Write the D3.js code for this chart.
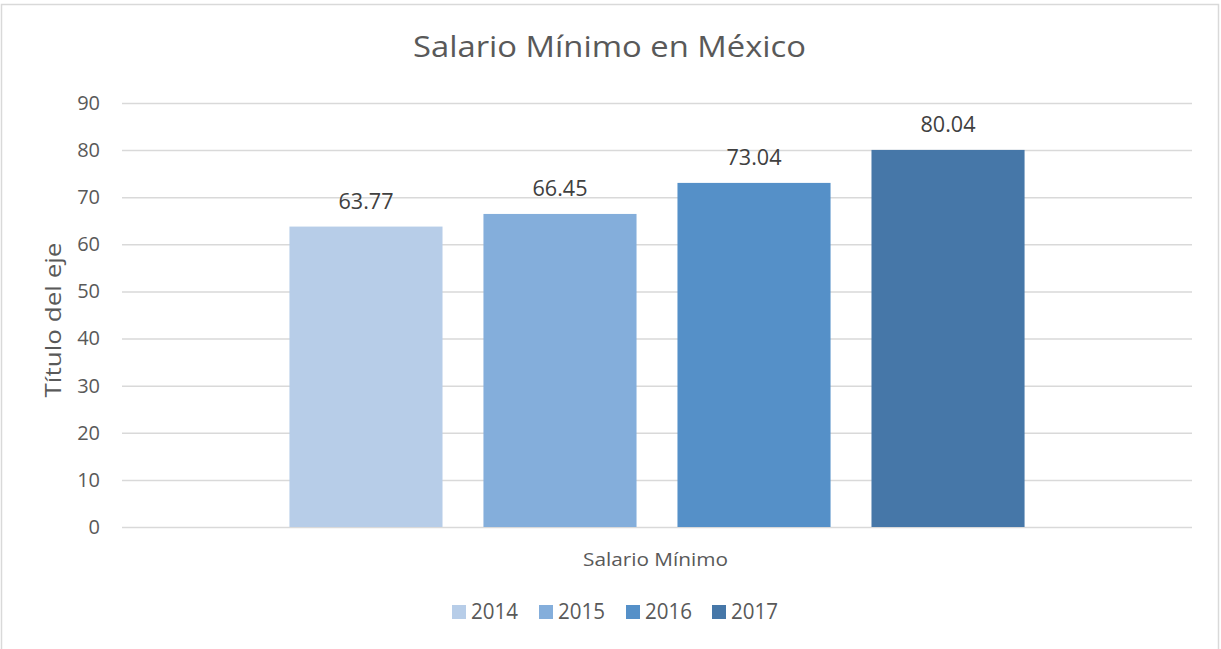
<!DOCTYPE html>
<html>
<head>
<meta charset="utf-8">
<script src="https://cdn.jsdelivr.net/npm/d3@7"></script>
<style>
  html, body { margin: 0; padding: 0; background: #fff; }
  svg { display: block; font-family: "Open Sans", "Noto Sans", sans-serif; }
</style>
</head>
<body>
<svg id="chart" width="1221" height="649"></svg>
<script>
const title = "Salario Mínimo en México";
const categories = ["Salario Mínimo"];
const seriesNames = ["2014", "2015", "2016", "2017"];
const seriesValues = [63.77, 66.45, 73.04, 80.04];
const seriesColors = ["#b7cde8", "#84aedb", "#5590c8", "#4677a8"];
const yTicks = [0, 10, 20, 30, 40, 50, 60, 70, 80, 90];
const yAxisTitle = "Título del eje";

const svg = d3.select("#chart");
const plot = { left: 122, right: 1192, top: 103, bottom: 527 };

// chart border
svg.append("rect")
  .attr("x", 1.5).attr("y", 4.5)
  .attr("width", 1217).attr("height", 648)
  .attr("fill", "#fff").attr("stroke", "#d9d9d9").attr("stroke-width", 1.5);

const y = d3.scaleLinear().domain([0, 90]).range([plot.bottom, plot.top]);
const x0 = d3.scaleBand().domain(categories).range([plot.left, plot.right]);
const x1 = d3.scaleBand().domain(seriesNames)
  .range([0, x0.bandwidth()])
  .paddingInner(0.211).paddingOuter(0.863);

// gridlines + tick labels via axis
const yAxis = d3.axisLeft(y).tickValues(yTicks).tickSize(-(plot.right - plot.left)).tickPadding(22);
const gy = svg.append("g").attr("transform", `translate(${plot.left},0)`).call(yAxis);
gy.select(".domain").remove();
gy.selectAll(".tick line").attr("stroke", "#d9d9d9").attr("stroke-width", 1.5);
gy.selectAll(".tick text")
  .attr("fill", "#595959")
  .style("font-size", "20px")
  .style("font-family", "'Open Sans', sans-serif");

// bars
const g = svg.append("g");
const data = seriesNames.map((s, i) => ({ name: s, value: seriesValues[i], color: seriesColors[i] }));
g.selectAll("rect.bar").data(data).enter().append("rect")
  .attr("class", "bar")
  .attr("x", d => x0(categories[0]) + x1(d.name))
  .attr("width", x1.bandwidth())
  .attr("y", d => y(d.value))
  .attr("height", d => y(0) - y(d.value))
  .attr("fill", d => d.color);

// data labels
g.selectAll("text.lbl").data(data).enter().append("text")
  .attr("class", "lbl")
  .attr("x", d => x0(categories[0]) + x1(d.name) + x1.bandwidth() / 2)
  .attr("y", d => y(d.value) - 18)
  .attr("text-anchor", "middle")
  .attr("fill", "#404040")
  .style("font-size", "21px")
  .attr("textLength", 55).attr("lengthAdjust", "spacingAndGlyphs")
  .text(d => d.value.toFixed(2));

// title
svg.append("text")
  .attr("x", 609.5).attr("y", 57)
  .attr("text-anchor", "middle")
  .attr("fill", "#595959")
  .style("font-size", "29px")
  .attr("textLength", 393).attr("lengthAdjust", "spacingAndGlyphs")
  .text(title);

// category label
svg.append("text")
  .attr("x", 655.5).attr("y", 566)
  .attr("text-anchor", "middle")
  .attr("fill", "#595959")
  .style("font-size", "19px")
  .attr("textLength", 145).attr("lengthAdjust", "spacingAndGlyphs")
  .text(categories[0]);

// y axis title
svg.append("text")
  .attr("transform", `translate(61, 320) rotate(-90)`)
  .attr("text-anchor", "middle")
  .attr("fill", "#595959")
  .style("font-size", "21px")
  .attr("textLength", 155).attr("lengthAdjust", "spacingAndGlyphs")
  .text(yAxisTitle);

// legend
const legendX = [452, 539, 626, 712];
const lg = svg.append("g");
data.forEach((d, i) => {
  lg.append("rect").attr("x", legendX[i]).attr("y", 605).attr("width", 14).attr("height", 14).attr("fill", d.color);
  lg.append("text").attr("x", legendX[i] + 19).attr("y", 618.5)
    .attr("fill", "#595959").style("font-size", "21px")
    .attr("textLength", 47).attr("lengthAdjust", "spacingAndGlyphs")
    .text(d.name);
});
</script>
</body>
</html>
